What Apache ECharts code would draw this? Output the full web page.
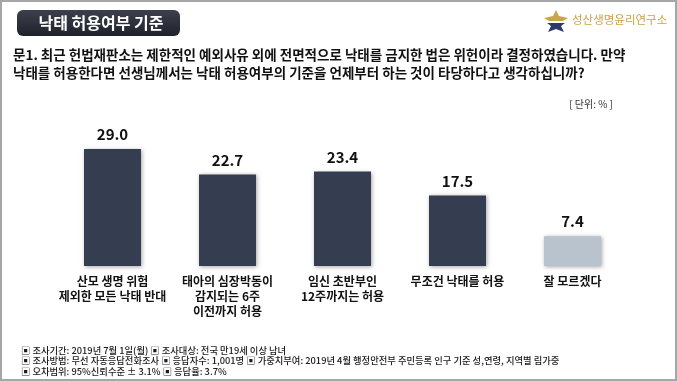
<!DOCTYPE html>
<html>
<head>
<meta charset="utf-8">
<script src="https://cdn.jsdelivr.net/npm/echarts@6/dist/echarts.min.js"></script>
<style>
html,body{margin:0;padding:0;background:#fff;}
#c{width:677px;height:381px;}
</style>
</head>
<body>
<div id="c"></div>
<script>
var categories = ['산모 생명 위험\n제외한 모든 낙태 반대', '태아의 심장박동이\n감지되는 6주\n이전까지 허용', '임신 초반부인\n12주까지는 허용', '무조건 낙태를 허용', '잘 모르겠다'];
var values = [29.0, 22.7, 23.4, 17.5, 7.4];
var barColors = ['#343e50', '#343e50', '#343e50', '#343e50', '#b9c3cd'];
var titleText = '낙태 허용여부 기준';
var questionLines = ['문1. 최근 헌법재판소는 제한적인 예외사유 외에 전면적으로 낙태를 금지한 법은 위헌이라 결정하였습니다. 만약', '낙태를 허용한다면 선생님께서는 낙태 허용여부의 기준을 언제부터 하는 것이 타당하다고 생각하십니까?'];
var unitText = '[ 단위: % ]';
var logoText = '성산생명윤리연구소';
var footerLines = ['▣ 조사기간: 2019년 7월 1일(월) ▣ 조사대상: 전국 만19세 이상 남녀', '▣ 조사방법: 무선 자동응답전화조사 ▣ 응답자수: 1,001명 ▣ 가중치부여: 2019년 4월 행정안전부 주민등록 인구 기준 성,연령, 지역별 림가중', '▣ 오차범위: 95%신뢰수준 ± 3.1% ▣ 응답율: 3.7%'];

var FONT = '"Noto Sans CJK KR", "Noto Sans", sans-serif';
var chart = echarts.init(document.getElementById('c'));

var graphics = [
  {type:'rect', shape:{x:1, y:1, width:675, height:379}, style:{fill:'none', stroke:'#a6a6a6', lineWidth:2}, z:10},
  {type:'rect', shape:{x:17, y:10, width:163, height:26, r:6},
   style:{fill:new echarts.graphic.LinearGradient(0,0,0,1,[{offset:0,color:'#3b404c'},{offset:1,color:'#1f222b'}])}},
  {type:'text', x:101, y:23, style:{text:titleText, fill:'#fff', font:'bold 16px '+FONT, textAlign:'center', textVerticalAlign:'middle'}},
  // logo icon
  {type:'polygon', shape:{points:[[556,10],[559,16],[568,18],[563,21],[549,21],[544,18],[553,16]]}, style:{fill:'#c9a648'}},
  {type:'rect', shape:{x:546, y:21, width:20, height:2}, style:{fill:'#ffffff'}},
  {type:'polygon', shape:{points:[[547,23],[565,23],[561,26],[564,32],[556,29],[548,32],[551,26]]}, style:{fill:'#2f3a6b'}},
  {type:'text', x:572, y:20, style:{text:logoText, fill:'#c9a43f', font:'11.5px '+FONT, textAlign:'left', textVerticalAlign:'middle'}},
  {type:'text', x:13, y:55, style:{text:questionLines[0], fill:'#111', font:'bold 13.5px '+FONT, textAlign:'left', textVerticalAlign:'middle'}},
  {type:'text', x:13, y:73, style:{text:questionLines[1], fill:'#111', font:'bold 13.5px '+FONT, textAlign:'left', textVerticalAlign:'middle'}},
  {type:'text', x:613, y:104, style:{text:unitText, fill:'#333', font:'10px '+FONT, textAlign:'right', textVerticalAlign:'middle'}}
];
footerLines.forEach(function(t, i){
  graphics.push({type:'text', x:21, y:350 + i*10.5, style:{text:t, fill:'#1a1a1a', font:'500 9.3px '+FONT, textAlign:'left', textVerticalAlign:'middle'}});
});

chart.setOption({
  animation:false,
  grid:{left:55, right:47, top:145, bottom:115},
  xAxis:{type:'category', data:categories,
    axisLine:{show:false}, axisTick:{show:false},
    axisLabel:{interval:0, margin:8, color:'#111', fontFamily:FONT, fontWeight:'bold', fontSize:12, lineHeight:15}},
  yAxis:{type:'value', min:0, max:30, show:false, splitLine:{show:false}},
  series:[{type:'bar', barWidth:57,
    data: values.map(function(v,i){return {value:v, itemStyle:{color:barColors[i]}};}),
    itemStyle:{shadowBlur:4, shadowColor:'rgba(0,0,0,0.35)', shadowOffsetX:1, shadowOffsetY:1},
    label:{show:true, position:'top', distance:7, color:'#111', fontFamily:FONT, fontWeight:'bold', fontSize:15,
      formatter:function(p){return p.value.toFixed(1);}}
  }],
  graphic:graphics
});
</script>
</body>
</html>
